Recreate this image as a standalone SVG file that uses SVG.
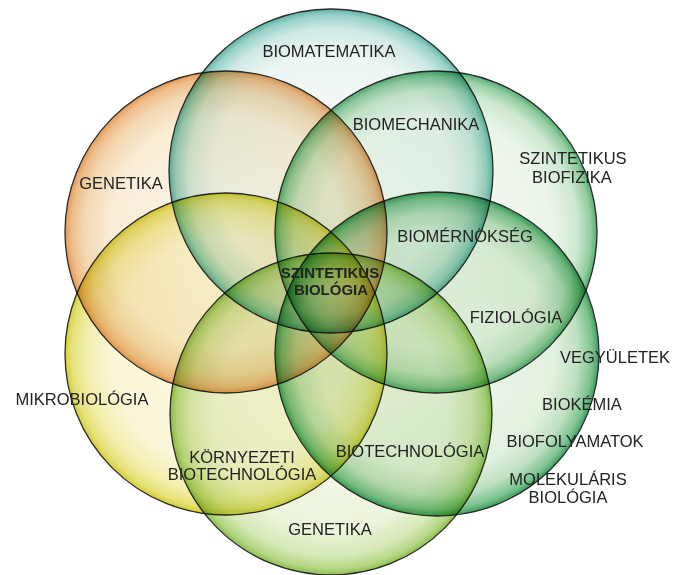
<svg xmlns="http://www.w3.org/2000/svg" width="674" height="575" viewBox="0 0 674 575">
<style>
.c{mix-blend-mode:multiply;stroke:#2a2a2a;stroke-width:1.3}
text{font-family:"Liberation Sans",Arial,sans-serif;font-size:16.5px;fill:#222;text-anchor:middle}
.b{font-weight:bold;font-size:15px}
</style>
<defs>
<radialGradient id="gT"><stop offset="0" stop-color="#f8fcfb"/><stop offset="0.72" stop-color="#edf6f4"/><stop offset="0.88" stop-color="#cfe9e4"/><stop offset="0.96" stop-color="#98d2c8"/><stop offset="1" stop-color="#5fb3a7"/></radialGradient>
<radialGradient id="gO"><stop offset="0" stop-color="#fdf8ed"/><stop offset="0.72" stop-color="#f9edd6"/><stop offset="0.88" stop-color="#f3d8b2"/><stop offset="0.96" stop-color="#eebd8a"/><stop offset="1" stop-color="#e39a58"/></radialGradient>
<radialGradient id="gU"><stop offset="0" stop-color="#f6faf4"/><stop offset="0.72" stop-color="#ecf5ea"/><stop offset="0.88" stop-color="#cde8d0"/><stop offset="0.96" stop-color="#93cda0"/><stop offset="1" stop-color="#55ad72"/></radialGradient>
<radialGradient id="gY"><stop offset="0" stop-color="#fdfbe8"/><stop offset="0.72" stop-color="#faf6d6"/><stop offset="0.88" stop-color="#f2eeaa"/><stop offset="0.96" stop-color="#e6e177"/><stop offset="1" stop-color="#d4cf36"/></radialGradient>
<radialGradient id="gR"><stop offset="0" stop-color="#eff7ec"/><stop offset="0.72" stop-color="#e3f1e0"/><stop offset="0.87" stop-color="#bfe0c2"/><stop offset="0.96" stop-color="#7cc28f"/><stop offset="1" stop-color="#3a9f5c"/></radialGradient>
<radialGradient id="gB"><stop offset="0" stop-color="#f7faec"/><stop offset="0.72" stop-color="#ecf4dc"/><stop offset="0.88" stop-color="#d6e9b6"/><stop offset="0.96" stop-color="#b4d785"/><stop offset="1" stop-color="#8cbf4e"/></radialGradient>
</defs>
<rect width="674" height="575" fill="#fff"/>
<g id="circles">
<g id="biomatematika"><circle class="c" cx="331" cy="171" r="162" fill="url(#gT)"/></g>
<g id="genetika-top"><circle class="c" cx="226" cy="232" r="161" fill="url(#gO)"/></g>
<g id="szintetikus-biofizika"><circle class="c" cx="436" cy="232" r="161" fill="url(#gU)"/></g>
<g id="mikrobiologia"><circle class="c" cx="226" cy="354" r="161" fill="url(#gY)"/></g>
<g id="vegyuletek"><circle class="c" cx="437" cy="354" r="162" fill="url(#gR)"/></g>
<g id="genetika-bottom"><circle class="c" cx="331" cy="414" r="161" fill="url(#gB)"/></g>
</g>
<g id="connectors"></g>
<g id="labels">
<text x="329" y="57">BIOMATEMATIKA</text>
<text x="416" y="130">BIOMECHANIKA</text>
<text x="121" y="189">GENETIKA</text>
<text x="573" y="164">SZINTETIKUS</text>
<text x="572" y="183">BIOFIZIKA</text>
<text x="465" y="242">BIOMÉRNÖKSÉG</text>
<text class="b" x="330" y="278">SZINTETIKUS</text>
<text class="b" x="331" y="295">BIOLÓGIA</text>
<text x="516" y="323">FIZIOLÓGIA</text>
<text x="615" y="363">VEGYÜLETEK</text>
<text x="82" y="405">MIKROBIOLÓGIA</text>
<text x="582" y="410">BIOKÉMIA</text>
<text x="575" y="447">BIOFOLYAMATOK</text>
<text x="410" y="457">BIOTECHNOLÓGIA</text>
<text x="242" y="463">KÖRNYEZETI</text>
<text x="242" y="480">BIOTECHNOLÓGIA</text>
<text x="568" y="485">MOLEKULÁRIS</text>
<text x="568" y="503">BIOLÓGIA</text>
<text x="330" y="535">GENETIKA</text>
</g>
</svg>
